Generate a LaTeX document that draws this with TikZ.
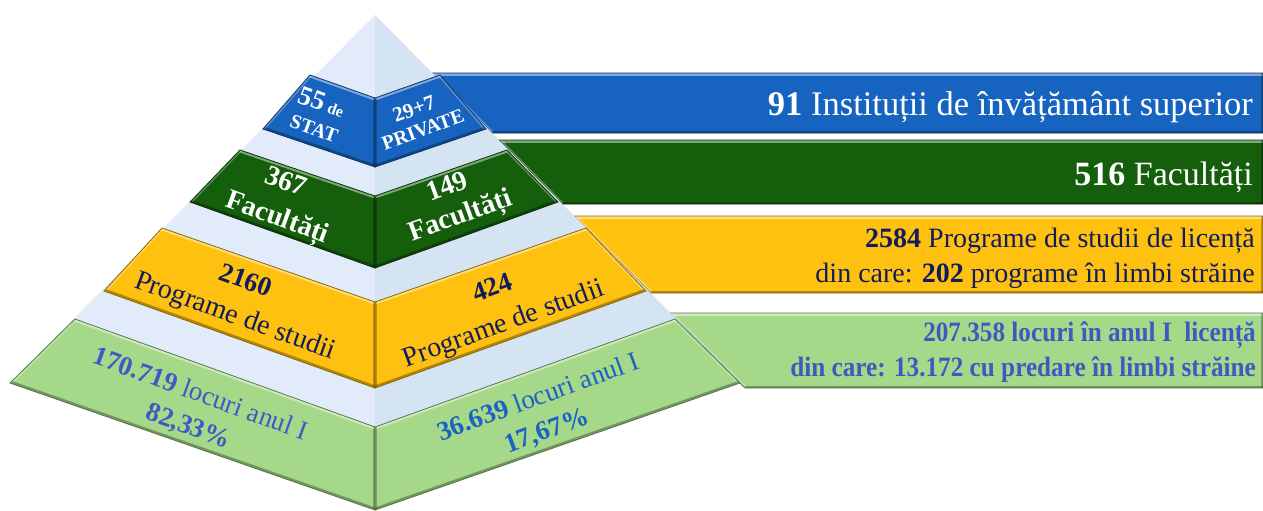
\documentclass[tikz,border=0pt]{standalone}
\usepackage{fontspec}
\setmainfont{Liberation Serif}
\usepackage{graphicx}
\definecolor{cblue}{HTML}{1763C0}
\definecolor{cgreen}{HTML}{145E0C}
\definecolor{cyellow}{HTML}{FFC10F}
\definecolor{clight}{HTML}{A6D88A}
\definecolor{faceL}{HTML}{E1EBFA}
\definecolor{faceR}{HTML}{D5E4F3}
\definecolor{navy}{HTML}{101C5C}
\definecolor{tblueL}{HTML}{3B5CC4}
\definecolor{tblueR}{HTML}{1B62C4}
\definecolor{tbar}{HTML}{3B5BC0}
\newcommand{\myfs}[1]{\fontsize{#1}{#1}\selectfont}
\newcommand{\mypiece}[5]{%
  \begin{scope}
    \clip #2 -- #3 -- #4 -- #5 -- cycle;
    \fill[#1] #2 -- #3 -- #4 -- #5 -- cycle;
    \draw[white,opacity=.45,line width=5pt] #2 -- #3;
    \draw[white,opacity=.3,line width=4pt] #2 -- #5;
    \draw[black,opacity=.3,line width=5pt] #5 -- #4;
    \draw[black,opacity=.25,line width=4pt] #3 -- #4;
  \end{scope}
  \draw[#1!55!black,line width=.8pt] #2 -- #3 -- #4 -- #5 -- cycle;
}
\begin{document}
\begin{tikzpicture}[x=1pt,y=-1pt,
  lbl/.style={inner sep=0pt,align=center},
  bartext/.style={inner sep=0pt,anchor=base east}]
\useasboundingbox[fill=white] (0,0) rectangle (1263,511);
% bars
\mypiece{cblue}{(432,73)}{(1263,73)}{(1263,133)}{(492,133)}
\mypiece{cgreen}{(499,140)}{(1263,140)}{(1263,204)}{(562,204)}
\mypiece{cyellow}{(574,216)}{(1263,216)}{(1263,293)}{(651,293)}
\mypiece{clight}{(670,313)}{(1263,313)}{(1263,388)}{(745,388)}
% pyramid faces
\coordinate (apex) at (375,15);
\coordinate (baseL) at (10,383);
\coordinate (baseB) at (375,510);
\coordinate (baseR) at (740,383);
\fill[faceL] (apex) -- (baseL) -- (baseB) -- cycle;
\fill[faceR] (apex) -- (baseB) -- (baseR) -- cycle;
% bands
\mypiece{cblue}{(310,75)}{(375,98)}{(375,167)}{(263,129)}
\mypiece{cblue}{(440,75)}{(375,98)}{(375,167)}{(486,129)}
\mypiece{cgreen}{(240,150)}{(375,196)}{(375,268)}{(190,202)}
\mypiece{cgreen}{(507,150)}{(375,196)}{(375,268)}{(558,202)}
\mypiece{cyellow}{(162,228)}{(375,302)}{(375,388)}{(104,291)}
\mypiece{cyellow}{(586,228)}{(375,302)}{(375,388)}{(646,291)}
\mypiece{clight}{(75,319)}{(375,427)}{(375,510)}{(10,383)}
\mypiece{clight}{(675,319)}{(375,427)}{(375,510)}{(740,383)}
% pyramid labels
\node[lbl,text=white,rotate=-20] (t55) at (322,102) {\myfs{27}\bfseries 55\,{\myfs{16}de}};
\node[lbl,text=white,rotate=-20] (tstat) at (314,129) {\myfs{20}\bfseries STAT};
\node[lbl,text=white,rotate=20] (t297) at (414,109) {\myfs{21}\bfseries 29+7};
\node[lbl,text=white,rotate=20] (tpriv) at (423,130) {\myfs{20}\bfseries PRIVATE};
\node[lbl,text=white,rotate=-20] (t367) at (286,181) {\myfs{28}\bfseries 367};
\node[lbl,text=white,rotate=-20] (tfacL) at (277,219) {\myfs{28}\bfseries Facultăți};
\node[lbl,text=white,rotate=20] (t149) at (447,186) {\myfs{28}\bfseries 149};
\node[lbl,text=white,rotate=20] (tfacR) at (461,217) {\myfs{28}\bfseries Facultăți};
\node[lbl,text=navy,rotate=-20] (t2160) at (246,280) {\myfs{27}\bfseries 2160};
\node[lbl,text=navy,rotate=-20] (tprogL) at (235,317) {\myfs{28}Programe de studii};
\node[lbl,text=navy,rotate=20] (t424) at (492,287) {\myfs{27}\bfseries 424};
\node[lbl,text=navy,rotate=20] (tprogR) at (504,325) {\myfs{28}Programe de studii};
\node[lbl,text=tblueL,rotate=-20] (tlocL) at (201,393) {\myfs{27}\textbf{170.719} locuri anul I};
\node[lbl,text=tblueL,rotate=-20] (tpctL) at (188,427) {\myfs{27}\bfseries 82,33\%};
\node[lbl,text=tblueR,rotate=20] (tlocR) at (538,396) {\myfs{27}\textbf{36.639} locuri anul I};
\node[lbl,text=tblueR,rotate=20] (tpctR) at (547,432) {\myfs{27}\bfseries 17,67\%};
% bar labels
\node[bartext,text=white] (tb) at (1253,115) {\myfs{34.5}\textbf{91} Instituții de învățământ superior};
\node[bartext,text=white] (tg) at (1253,185) {\myfs{34}\textbf{516} Facultăți};
\node[bartext,text=navy] (ty1) at (1255,247) {\myfs{28}\textbf{2584} Programe de studii de licență};
\node[bartext,text=navy] (ty2) at (1255,282) {\myfs{28}din care: \textbf{202} programe în limbi străine};
\node[bartext,text=tbar] (tl1) at (1256,341) {\scalebox{0.9}[1]{\myfs{28}\bfseries 207.358 locuri în anul I~~licență}};
\node[bartext,text=tbar] (tl2) at (1256,376) {\scalebox{0.9}[1]{\myfs{28}\bfseries din care: 13.172 cu predare în limbi străine}};
\end{tikzpicture}
\end{document}
